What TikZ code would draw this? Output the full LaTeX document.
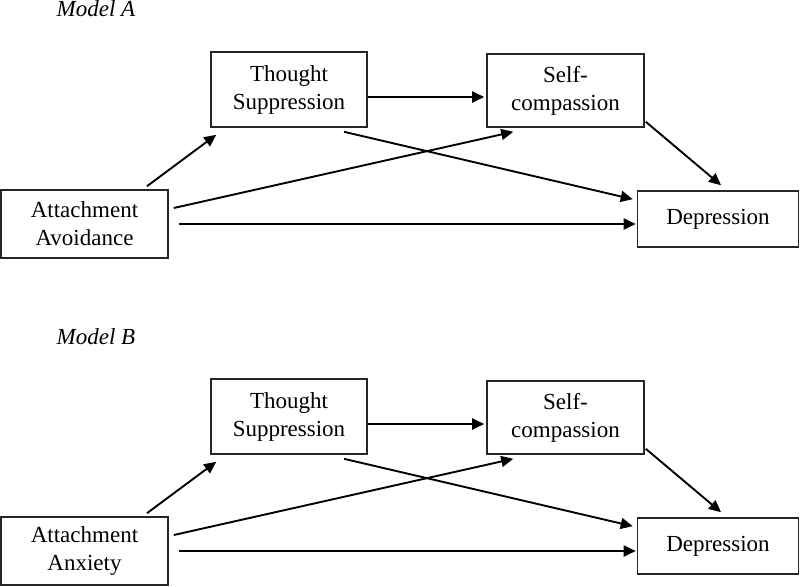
\documentclass[tikz,border=0pt]{standalone}
\usepackage{fontspec}
\setmainfont{Liberation Serif}
\usetikzlibrary{arrows.meta}
\tikzset{
  boxnode/.style={draw=black!85, line width=1.6pt, rectangle, inner sep=0pt, align=center,
    font=\fontsize{23}{28}\selectfont},
  arr/.style={line width=1.9pt, -{Triangle[length=12pt,width=11pt]}},
  modellabel/.style={font=\fontsize{23}{28}\selectfont\itshape, anchor=base, inner sep=0pt}
}
\newcommand\mymodel[4]{%
  \begin{scope}[yshift=#4]
  \node[modellabel] (lab#1) at (96,17) {#2};
  \node[boxnode, minimum width=167pt, minimum height=68pt] (aa#1) at (84.5,224) {Attachment\\#3};
  \node[boxnode, minimum width=156pt, minimum height=75pt] (ts#1) at (289,89.5) {Thought\\Suppression};
  \node[boxnode, minimum width=157pt, minimum height=73pt] (sc#1) at (565.5,90.5) {Self-\\compassion};
  \node[boxnode, minimum width=161pt, minimum height=56pt] (dep#1) at (718,219) {Depression};
  \draw[arr] ([xshift=62.5pt,yshift=3pt]aa#1.north) -- ([xshift=6pt,yshift=-7pt]ts#1.south west);
  \draw[arr] ([yshift=-7.5pt]ts#1.east) -- ([xshift=-2pt,yshift=-6.5pt]sc#1.west);
  \draw[arr] ([xshift=55pt,yshift=-4pt]ts#1.south) -- ([xshift=-4pt,yshift=-9pt]dep#1.north west);
  \draw[arr] ([xshift=5pt,yshift=16pt]aa#1.east) -- ([xshift=27pt,yshift=-4pt]sc#1.south west);
  \draw[arr] ([xshift=10pt]aa#1.east) -- ([xshift=-1pt,yshift=-5pt]dep#1.west);
  \draw[arr] ([xshift=1pt,yshift=6pt]sc#1.south east) -- ([xshift=3pt,yshift=5pt]dep#1.north);
  \end{scope}
}
\begin{document}
\begin{tikzpicture}[x=1pt, y=-1pt]
\useasboundingbox (0,0) rectangle (800,586);
\mymodel{A}{Model A}{Avoidance}{0pt}
\mymodel{B}{Model B}{Anxiety}{-327pt}
\end{tikzpicture}
\end{document}
